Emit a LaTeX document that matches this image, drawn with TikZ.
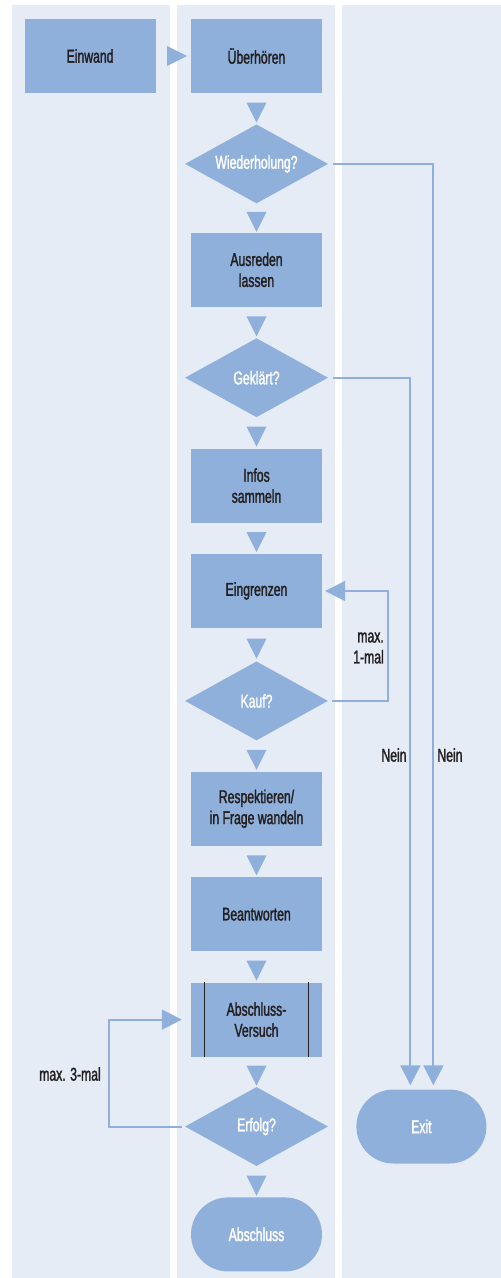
\documentclass[tikz,border=0pt]{standalone}
\usepackage{fontspec}
\setmainfont{Liberation Sans}[FakeStretch=0.66, FakeBold=1.5]
\usetikzlibrary{arrows.meta, positioning, shapes.geometric}
\definecolor{blau}{HTML}{8FB0DB}
\definecolor{spur}{HTML}{E5ECF6}
\definecolor{schrift}{HTML}{231F20}
\tikzset{
  x=1pt, y=-1pt, % coordinates as on the sheet, y going down
  node distance=31pt, % gap between two steps of the flow
  every node/.style={font=\fontsize{18.5pt}{21pt}\selectfont, align=center,
    inner sep=0pt, text=schrift},
  schritt/.style={rectangle, fill=blau, minimum width=131pt,
    minimum height=74pt}, % plain step
  frage/.style={diamond, aspect=1.81, fill=blau, text=white,
    minimum width=143pt, minimum height=79pt}, % decision
  ende/.style={rectangle, rounded corners=37pt, fill=blau, text=white,
    minimum width=131pt, minimum height=74pt}, % start / end
  dreieck/.style={isosceles triangle, isosceles triangle stretches,
    fill=blau, minimum width=20pt, minimum height=20pt,
    shape border rotate=270}, % arrow between two steps
  linie/.style={draw=blau, line width=2pt,
    -{Triangle[length=20pt, width=20pt]}},
}

\begin{document}
\begin{tikzpicture}
  % the three lanes
  \fill[spur] (12,5) rectangle (170,1278);
  \fill[spur] (177,5) rectangle (335,1278);
  \fill[spur] (342,5) rectangle (501,1278);
  \useasboundingbox (0,0) rectangle (501,1278);

  \node[schritt] (ueber) at (256.5,56) {Überhören};
  \node[schritt, left=35pt of ueber] (einwand) {Einwand};
  \node[frage, below=of ueber] (wied) {Wiederholung?};
  \node[schritt, below=29pt of wied] (ausreden) {Ausreden\\lassen};
  \node[frage, below=of ausreden] (geklaert) {Geklärt?};
  \node[schritt, below=of geklaert] (infos) {Infos\\sammeln};
  \node[schritt, below=of infos] (eingrenzen) {Eingrenzen};
  \node[frage, below=33pt of eingrenzen] (kauf) {Kauf?};
  \node[schritt, below=of kauf] (respekt) {Respektieren/\\in Frage wandeln};
  \node[schritt, below=of respekt] (antwort) {Beantworten};
  \node[schritt, below=of antwort] (versuch) {Abschluss-\\Versuch};
  \node[frage, below=30pt of versuch] (erfolg) {Erfolg?};
  \node[ende, below=of erfolg] (abschluss) {Abschluss};
  \node[ende, minimum width=130pt, right=28pt of erfolg] (exit) {Exit};

  % side bars of the sub process
  \draw[schrift, line width=1.2pt]
    ([xshift=14pt]versuch.north west) -- ([xshift=14pt]versuch.south west)
    ([xshift=-14pt]versuch.north east) -- ([xshift=-14pt]versuch.south east);

  % arrows between the steps
  \path (einwand) -- node[dreieck, shape border rotate=0] {} (ueber);
  \path (ueber) -- node[dreieck] {} (wied);
  \path (wied) -- node[dreieck] {} (ausreden);
  \path (ausreden) -- node[dreieck] {} (geklaert);
  \path (geklaert) -- node[dreieck] {} (infos);
  \path (infos) -- node[dreieck] {} (eingrenzen);
  \path (eingrenzen) -- node[dreieck] {} (kauf);
  \path (kauf) -- node[dreieck] {} (respekt);
  \path (respekt) -- node[dreieck] {} (antwort);
  \path (antwort) -- node[dreieck] {} (versuch);
  \path (versuch) -- node[dreieck] {} (erfolg);
  \path (erfolg) -- node[dreieck] {} (abschluss);

  % ways out and back
  \draw[linie, shorten <=5pt, shorten >=4pt]
    (wied.east) -| ([xshift=12pt]exit.north);
  \draw[linie, shorten <=5pt, shorten >=4pt]
    (geklaert.east) -| ([xshift=-11pt]exit.north);
  \draw[linie, shorten <=4pt, shorten >=3pt]
    (kauf.east) -- ++(60,0) |- (eingrenzen.east);
  \draw[linie, shorten <=3pt, shorten >=9pt]
    (erfolg.west) -- ++(-76,0) |- (versuch.west);

  \node[anchor=east, align=right] (maxeins) at (384,648) {max.\\1-mal};
  \node (maxdrei) at (70,1074) {max. 3-mal};
  \node (neineins) at (394,755) {Nein};
  \node (neinzwei) at (450,755) {Nein};
\end{tikzpicture}
\end{document}
